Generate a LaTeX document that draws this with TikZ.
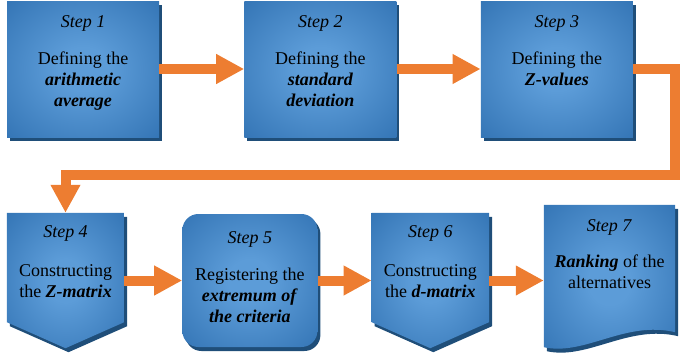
\documentclass[tikz,border=0pt]{standalone}
\usepackage{fontspec}
\setmainfont{Liberation Serif}
\usetikzlibrary{positioning, arrows.meta, shadows}

\definecolor{boxlight}{HTML}{5C9CD8}
\definecolor{boxdark}{HTML}{2E6FB0}
\definecolor{boxshadow}{HTML}{1F4E79}
\definecolor{floworange}{HTML}{ED7D31}

\pgfdeclareradialshading{boxglow}{\pgfpointorigin}{color(0bp)=(boxlight); color(8bp)=(boxlight); color(40bp)=(boxdark); color(50bp)=(boxdark)}

\tikzset{
  boxfill/.style={shade, shading=boxglow, drop shadow={shadow xshift=3pt, shadow yshift=-4pt, opacity=1, fill=boxshadow}},
  stepbox/.style={boxfill, rectangle, inner sep=0pt, minimum width=152pt, minimum height=136pt},
  stepframe/.style={rectangle, inner sep=0pt},
  steptext/.style={align=center, inner sep=0pt, font=\fontsize{18}{21}\selectfont},
  flow/.style={draw=floworange, line width=10pt, line join=miter, -{Triangle[width=28pt, length=28pt]}}
}

\begin{document}
\begin{tikzpicture}[x=1pt, y=-1pt]
    \useasboundingbox (0,0) rectangle (680,364);

    % Top row
    \node[stepbox] (s1) at (83,69) {};
    \node[stepbox, right=85pt of s1] (s2) {};
    \node[stepbox, right=84pt of s2] (s3) {};

    % Bottom row
    \node[stepframe, minimum width=117pt, minimum height=135pt] (s4) at (65.5,280.5) {};
    \node[boxfill, rectangle, rounded corners=16pt, inner sep=0pt, minimum width=135pt, minimum height=133pt, right=58pt of s4] (s5) {};
    \node[stepframe, minimum width=117pt, minimum height=135pt, right=54pt of s5] (s6) {};
    \node[stepframe, minimum width=131pt, minimum height=142pt] (s7) at (609.5,276) {};

    \path[boxfill] (s4.north west) -- (s4.north east) -- ([yshift=26pt]s4.south east) -- (s4.south) -- ([yshift=26pt]s4.south west) -- cycle;
    \path[boxfill] (s6.north west) -- (s6.north east) -- ([yshift=26pt]s6.south east) -- (s6.south) -- ([yshift=26pt]s6.south west) -- cycle;
    \path[boxfill] (s7.north west) -- (s7.north east) -- ([yshift=15pt]s7.south east)
        .. controls ([xshift=-50pt, yshift=27pt]s7.south east) and ([xshift=41pt, yshift=-9pt]s7.south west) .. (s7.south west) -- cycle;

    % Labels
    \node[steptext, below=15pt of s1.north] (t1) {\textit{Step 1}\\[16pt]Defining the\\\textbf{\textit{arithmetic}}\\\textbf{\textit{average}}};
    \node[steptext, below=15pt of s2.north] (t2) {\textit{Step 2}\\[16pt]Defining the\\\textbf{\textit{standard}}\\\textbf{\textit{deviation}}};
    \node[steptext, below=15pt of s3.north] (t3) {\textit{Step 3}\\[16pt]Defining the\\\textbf{\textit{Z-values}}};
    \node[steptext, below=13pt of s4.north] (t4) {\textit{Step 4}\\[18pt]Constructing\\the \textbf{\textit{Z-matrix}}};
    \node[steptext, below=18pt of s5.north] (t5) {\textit{Step 5}\\[16pt]Registering the\\\textbf{\textit{extremum of}}\\\textbf{\textit{the criteria}}};
    \node[steptext, below=13pt of s6.north] (t6) {\textit{Step 6}\\[18pt]Constructing\\the \textbf{\textit{d-matrix}}};
    \node[steptext, below=15pt of s7.north] (t7) {\textit{Step 7}\\[15pt]\textbf{\textit{Ranking}} of the\\alternatives};

    % Arrows
    \coordinate (turnR) at (675,175);
    \coordinate (turnL) at (65.5,175);
    \draw[flow] (s1.east) -- (s2.west);
    \draw[flow] (s2.east) -- (s3.west);
    \draw[flow] (s3.east) -| (turnR) -- (turnL) -- (s4.north);
    \draw[flow] (s4.east) -- (s5.west);
    \draw[flow] (s5.east) -- (s6.west);
    \draw[flow] (s6.east) -- (s6.east -| s7.west);
\end{tikzpicture}
\end{document}
